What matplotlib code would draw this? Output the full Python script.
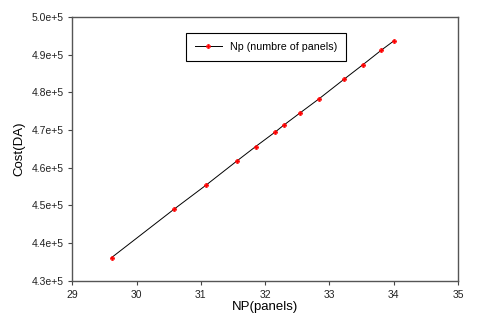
import matplotlib
matplotlib.use("Agg")
import matplotlib.pyplot as plt
from matplotlib.ticker import FuncFormatter

# values
np_panels = [29.61, 30.58, 31.08, 31.56, 31.85, 32.15, 32.29, 32.54, 32.84, 33.23, 33.52, 33.81, 34.00]
cost_da = [4.362e5, 4.490e5, 4.554e5, 4.618e5, 4.656e5, 4.694e5, 4.713e5,
           4.745e5, 4.783e5, 4.835e5, 4.873e5, 4.912e5, 4.936e5]
x_ticks = [29, 30, 31, 32, 33, 34, 35]
y_ticks = [4.3e5, 4.4e5, 4.5e5, 4.6e5, 4.7e5, 4.8e5, 4.9e5, 5.0e5]

plt.rcParams['font.family'] = ['Liberation Sans', 'DejaVu Sans']

fig = plt.figure(figsize=(4.8, 3.24), dpi=100)
ax = fig.add_axes([0.151, 0.133, 0.803, 0.815])

ax.plot(np_panels, cost_da, color='black', linewidth=0.7,
        marker='P', markersize=3.3, markerfacecolor='red', markeredgecolor='red',
        markeredgewidth=0.3, label='Np (numbre of panels)')

ax.set_xlim(29, 35)
ax.set_ylim(4.3e5, 5.0e5)
ax.set_xticks(x_ticks)
ax.set_yticks(y_ticks)


def sci_fmt(v, pos):
    return "%.1fe+5" % (v / 1e5)


ax.yaxis.set_major_formatter(FuncFormatter(sci_fmt))
ax.tick_params(labelsize=7.5, direction='out', length=3, width=0.8, colors='#444444',
               labelcolor='#222222')
for sp in ax.spines.values():
    sp.set_color('#555555')
    sp.set_linewidth(1.0)

ax.set_xlabel('NP(panels)', fontsize=9.5, labelpad=1)
ax.set_ylabel('Cost(DA)', fontsize=9.5, labelpad=4)

leg = ax.legend(loc='upper left', bbox_to_anchor=(0.28, 0.96), fontsize=7.7,
                fancybox=False, framealpha=1, edgecolor='black',
                handlelength=2.5, borderpad=0.85)
leg.get_frame().set_linewidth(0.8)

fig.savefig('out.png', dpi=100)
